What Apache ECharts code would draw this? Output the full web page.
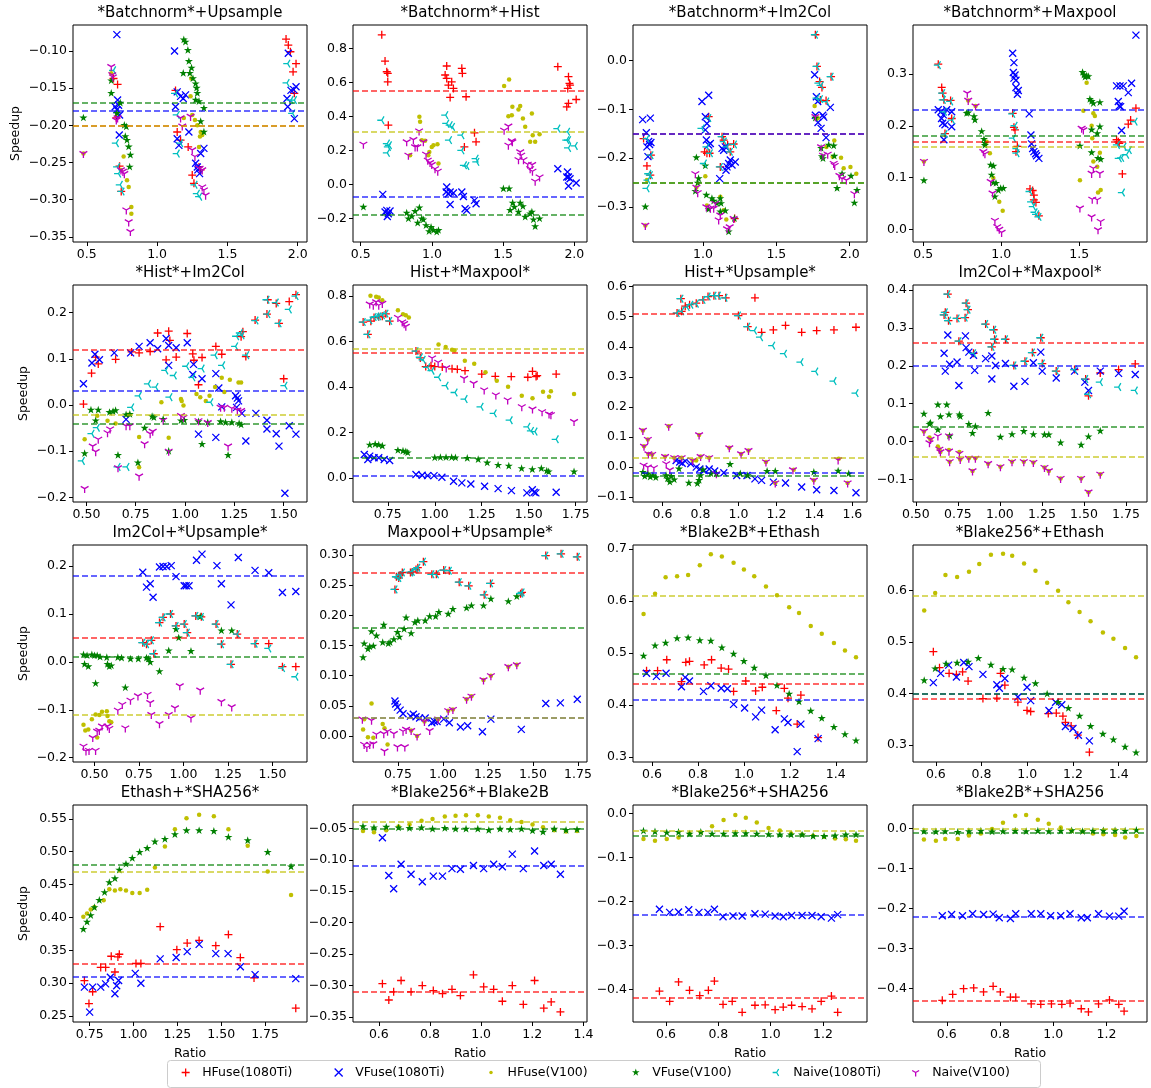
<!DOCTYPE html>
<html><head><meta charset="utf-8">
<script src="https://cdn.jsdelivr.net/npm/echarts@6/dist/echarts.min.js"></script>
<style>html,body{margin:0;padding:0;background:#fff}#c{width:1151px;height:1088px}</style>
</head><body><div id="c"></div>
<script>
const TITLES = ['*Batchnorm*+Upsample','*Batchnorm*+Hist','*Batchnorm*+Im2Col','*Batchnorm*+Maxpool','*Hist*+Im2Col','Hist+*Maxpool*','Hist+*Upsample*','Im2Col+*Maxpool*','Im2Col+*Upsample*','Maxpool+*Upsample*','*Blake2B*+Ethash','*Blake256*+Ethash','Ethash+*SHA256*','*Blake256*+Blake2B','*Blake256*+SHA256','*Blake2B*+SHA256'];
const X_LIMITS = [[0.402,2.066],[0.446,2.089],[0.523,2.118],[0.434,1.934],[0.432,1.618],[0.565,1.81],[0.445,1.677],[0.483,1.875],[0.379,1.694],[0.50,1.80],[0.517,1.536],[0.50,1.524],[0.655,1.989],[0.499,1.414],[0.474,1.368],[0.473,1.352]];
const Y_LIMITS = [[-0.357,-0.065],[-0.339,0.937],[-0.372,0.073],[-0.0245,0.3946],[-0.210,0.260],[-0.106,0.849],[-0.116,0.6055],[-0.159,0.413],[-0.209,0.244],[-0.043,0.3166],[0.290,0.708],[0.267,0.688],[0.241,0.571],[-0.358,-0.0128],[-0.474,0.019],[-0.483,0.058]];
const X_TICKS = [[0.5,1.0,1.5,2.0],[0.5,1.0,1.5,2.0],[1.0,1.5,2.0],[0.5,1.0,1.5],[0.5,0.75,1.0,1.25,1.5],[0.75,1.0,1.25,1.5,1.75],[0.6,0.8,1.0,1.2,1.4,1.6],[0.5,0.75,1.0,1.25,1.5,1.75],[0.5,0.75,1.0,1.25,1.5],[0.75,1.0,1.25,1.5,1.75],[0.6,0.8,1.0,1.2,1.4],[0.6,0.8,1.0,1.2,1.4],[0.75,1.0,1.25,1.5,1.75],[0.6,0.8,1.0,1.2,1.4],[0.6,0.8,1.0,1.2],[0.6,0.8,1.0,1.2]];
const Y_TICKS = [[-0.35,-0.30,-0.25,-0.20,-0.15,-0.10],[-0.2,0.0,0.2,0.4,0.6,0.8],[-0.3,-0.2,-0.1,0.0],[0.0,0.1,0.2,0.3],[-0.2,-0.1,0.0,0.1,0.2],[0.0,0.2,0.4,0.6,0.8],[-0.1,0.0,0.1,0.2,0.3,0.4,0.5,0.6],[-0.1,0.0,0.1,0.2,0.3,0.4],[-0.2,-0.1,0.0,0.1,0.2],[0.0,0.05,0.10,0.15,0.20,0.25,0.30],[0.3,0.4,0.5,0.6,0.7],[0.3,0.4,0.5,0.6],[0.25,0.30,0.35,0.40,0.45,0.50,0.55],[-0.35,-0.30,-0.25,-0.20,-0.15,-0.10,-0.05],[-0.4,-0.3,-0.2,-0.1,0.0],[-0.4,-0.3,-0.2,-0.1,0.0]];
const X_DEC = [1,1,1,1,2,2,1,2,2,2,1,1,2,1,1,1];
const Y_DEC = [2,1,1,1,1,1,1,1,1,2,1,1,2,2,1,1];

const HFUSE_1080TI = [
[[0.69,-0.137],[0.719,-0.145],[0.71,-0.19],[0.733,-0.255],[0.745,-0.289],[1.131,-0.153],[1.143,-0.209],[1.167,-0.22],[1.221,-0.229],[1.25,-0.267],[1.262,-0.278],[1.298,-0.256],[1.31,-0.26],[1.917,-0.084],[1.933,-0.092],[1.948,-0.101],[1.988,-0.117],[1.967,-0.128],[1.976,-0.157]],
[[0.648,0.879],[0.671,0.725],[0.683,0.662],[0.69,0.653],[0.69,0.603],[0.694,0.348],[1.104,0.696],[1.093,0.643],[1.104,0.623],[1.116,0.584],[1.128,0.511],[1.139,0.603],[1.151,0.564],[1.21,0.682],[1.214,0.653],[1.24,0.515],[1.228,0.22],[1.299,0.303],[1.31,0.25],[1.884,0.692],[1.959,0.633],[1.966,0.594],[1.954,0.564],[1.947,0.456],[1.959,0.476],[2.013,0.499],[1.97,0.584]],
[[0.595,-0.16],[0.618,-0.216],[0.641,-0.235],[0.645,-0.194],[1.011,-0.187],[1.027,-0.19],[1.039,-0.115],[1.045,-0.19],[1.118,-0.218],[1.13,-0.156],[1.141,-0.163],[1.168,-0.173],[1.186,-0.187],[1.209,-0.171],[1.216,-0.324],[1.766,0.053],[1.777,-0.012],[1.795,-0.043],[1.811,-0.055],[1.839,-0.082],[1.873,-0.033],[1.8,-0.081]],
[[0.596,0.319],[0.618,0.274],[0.624,0.263],[0.632,0.25],[0.639,0.185],[0.675,0.249],[0.682,0.214],[1.073,0.224],[1.081,0.197],[1.088,0.192],[1.103,0.16],[1.094,0.15],[1.184,0.078],[1.201,0.075],[1.209,0.066],[1.209,0.057],[1.222,0.052],[1.241,0.026],[1.75,0.169],[1.756,0.166],[1.776,0.107],[1.814,0.203],[1.829,0.211],[1.863,0.234],[1.739,0.173]],
[[0.485,0.002],[0.526,0.069],[0.547,0.104],[0.56,0.089],[0.648,0.099],[0.729,0.115],[0.767,0.113],[0.823,0.116],[0.861,0.156],[0.904,0.098],[0.917,0.16],[0.923,0.14],[0.955,0.104],[1.011,0.155],[1.039,0.111],[1.045,0.097],[1.068,0.044],[1.086,0.103],[1.156,0.127],[1.186,0.11],[1.284,0.148],[1.293,0.159],[1.308,0.105],[1.355,0.184],[1.415,0.197],[1.419,0.228],[1.462,0.22],[1.476,0.177],[1.5,0.057],[1.528,0.224],[1.562,0.239]],
[[0.619,0.686],[0.644,0.632],[0.66,0.69],[0.677,0.706],[0.702,0.709],[0.721,0.712],[0.74,0.722],[0.76,0.69],[0.9,0.558],[0.923,0.528],[0.952,0.49],[0.98,0.494],[1.0,0.49],[1.04,0.488],[1.092,0.48],[1.12,0.478],[1.161,0.472],[1.25,0.457],[1.322,0.447],[1.407,0.446],[1.495,0.443],[1.52,0.469],[1.539,0.446],[1.545,0.45],[1.646,0.457]],
[[0.677,0.512],[0.697,0.56],[0.701,0.518],[0.72,0.535],[0.743,0.54],[0.778,0.545],[0.813,0.556],[0.84,0.567],[0.871,0.57],[0.898,0.57],[0.933,0.563],[1.0,0.504],[1.049,0.467],[1.087,0.563],[1.122,0.448],[1.184,0.456],[1.248,0.471],[1.333,0.448],[1.412,0.454],[1.503,0.456],[1.619,0.465]],
[[0.668,0.334],[0.675,0.341],[0.69,0.389],[0.694,0.319],[0.745,0.325],[0.793,0.327],[0.799,0.365],[0.81,0.348],[0.756,0.265],[0.843,0.233],[0.915,0.31],[0.952,0.25],[0.963,0.295],[0.968,0.27],[1.033,0.27],[1.083,0.201],[1.149,0.212],[1.193,0.235],[1.243,0.274],[1.252,0.206],[1.335,0.186],[1.444,0.19],[1.51,0.165],[1.527,0.121],[1.597,0.181],[1.706,0.19],[1.805,0.205]],
[[0.771,0.04],[0.792,0.037],[0.819,0.045],[0.833,0.017],[0.865,0.082],[0.885,0.093],[0.927,0.1],[0.958,0.075],[1.004,0.079],[1.021,0.061],[1.069,0.096],[1.1,0.094],[1.183,0.079],[1.213,0.037],[1.267,-0.005],[1.302,0.058],[1.402,0.038],[1.479,0.038],[1.556,-0.01],[1.631,-0.01]],
[[0.733,0.243],[0.741,0.264],[0.754,0.262],[0.762,0.267],[0.774,0.271],[0.819,0.271],[0.829,0.272],[0.85,0.276],[0.86,0.279],[0.891,0.289],[0.938,0.268],[0.963,0.268],[1.004,0.275],[1.035,0.274],[1.09,0.255],[1.143,0.249],[1.229,0.234],[1.264,0.253],[1.431,0.236],[1.439,0.238],[1.571,0.299],[1.656,0.302],[1.746,0.297]],
[[0.576,0.466],[0.624,0.466],[0.664,0.487],[0.728,0.445],[0.747,0.482],[0.763,0.484],[0.827,0.477],[0.859,0.487],[0.901,0.471],[0.933,0.469],[0.955,0.426],[1.008,0.446],[1.051,0.427],[1.08,0.434],[1.141,0.389],[1.176,0.432],[1.192,0.413],[1.232,0.363],[1.248,0.419],[1.323,0.337]],
[[0.589,0.481],[0.616,0.45],[0.658,0.439],[0.69,0.437],[0.717,0.442],[0.741,0.424],[0.806,0.39],[0.867,0.391],[0.883,0.439],[0.902,0.416],[0.959,0.383],[0.999,0.367],[1.015,0.365],[1.092,0.361],[1.127,0.362],[1.156,0.356],[1.167,0.344],[1.192,0.337],[1.221,0.319],[1.272,0.286]],
[[0.72,0.304],[0.746,0.269],[0.767,0.287],[0.813,0.324],[0.841,0.324],[0.873,0.341],[0.911,0.34],[0.919,0.344],[0.894,0.317],[1.014,0.33],[1.042,0.33],[1.152,0.386],[1.247,0.351],[1.306,0.361],[1.374,0.365],[1.469,0.357],[1.541,0.374],[1.609,0.339],[1.687,0.308],[1.925,0.262]],
[[0.614,-0.297],[0.639,-0.323],[0.658,-0.31],[0.687,-0.292],[0.726,-0.31],[0.77,-0.3],[0.813,-0.308],[0.849,-0.313],[0.886,-0.306],[0.919,-0.316],[0.97,-0.283],[1.01,-0.302],[1.049,-0.306],[1.083,-0.325],[1.122,-0.3],[1.165,-0.33],[1.209,-0.292],[1.245,-0.336],[1.274,-0.326],[1.31,-0.342]],
[[0.575,-0.404],[0.614,-0.427],[0.648,-0.383],[0.69,-0.402],[0.729,-0.414],[0.762,-0.402],[0.785,-0.381],[0.818,-0.434],[0.853,-0.427],[0.891,-0.452],[0.94,-0.436],[0.979,-0.435],[1.017,-0.446],[1.048,-0.44],[1.08,-0.436],[1.12,-0.439],[1.158,-0.444],[1.193,-0.427],[1.232,-0.415],[1.256,-0.452]],
[[0.583,-0.429],[0.622,-0.414],[0.663,-0.4],[0.701,-0.398],[0.738,-0.408],[0.774,-0.394],[0.801,-0.408],[0.839,-0.421],[0.859,-0.421],[0.917,-0.438],[0.953,-0.439],[0.993,-0.438],[1.032,-0.439],[1.063,-0.436],[1.105,-0.45],[1.132,-0.458],[1.17,-0.438],[1.211,-0.428],[1.246,-0.439],[1.266,-0.456]]
];

const VFUSE_1080TI = [
[[0.714,-0.078],[0.719,-0.166],[0.726,-0.173],[0.714,-0.179],[0.733,-0.186],[0.731,-0.213],[0.702,-0.175],[1.124,-0.1],[1.143,-0.155],[1.167,-0.161],[1.186,-0.164],[1.202,-0.159],[1.131,-0.175],[1.143,-0.218],[1.155,-0.227],[1.226,-0.209],[1.274,-0.251],[1.286,-0.256],[1.29,-0.26],[1.31,-0.238],[1.333,-0.231],[1.302,-0.265],[1.933,-0.103],[1.924,-0.164],[1.929,-0.175],[1.952,-0.153],[1.971,-0.152],[1.988,-0.148],[1.976,-0.191]],
[[0.655,-0.059],[0.683,-0.153],[0.694,-0.173],[0.687,-0.189],[0.671,-0.163],[0.706,-0.157],[1.104,-0.016],[1.1,-0.045],[1.116,-0.055],[1.128,-0.045],[1.151,-0.051],[1.128,-0.118],[1.21,-0.045],[1.221,-0.071],[1.233,-0.143],[1.245,-0.153],[1.299,-0.094],[1.31,-0.114],[1.884,0.092],[1.952,0.073],[1.959,0.043],[1.97,0.033],[1.959,-0.01],[2.013,0.008],[1.947,0.043]],
[[0.589,-0.121],[0.641,-0.118],[0.614,-0.148],[0.63,-0.166],[0.636,-0.172],[0.618,-0.177],[0.625,-0.197],[0.645,-0.168],[0.993,-0.084],[1.039,-0.071],[1.016,-0.115],[1.027,-0.129],[1.016,-0.142],[1.023,-0.163],[1.039,-0.173],[1.05,-0.17],[1.114,-0.242],[1.13,-0.18],[1.141,-0.184],[1.152,-0.177],[1.164,-0.218],[1.175,-0.211],[1.186,-0.204],[1.198,-0.214],[1.22,-0.208],[1.157,-0.225],[1.761,-0.029],[1.773,-0.074],[1.782,-0.084],[1.766,-0.112],[1.784,-0.127],[1.805,-0.139],[1.816,-0.112],[1.823,-0.116],[1.868,-0.096],[1.839,-0.158]],
[[0.596,0.231],[0.613,0.227],[0.628,0.221],[0.617,0.214],[0.624,0.205],[0.639,0.202],[0.632,0.173],[0.682,0.227],[0.682,0.198],[0.65,0.231],[1.073,0.34],[1.081,0.322],[1.077,0.303],[1.088,0.298],[1.081,0.292],[1.094,0.288],[1.094,0.274],[1.103,0.261],[1.109,0.268],[1.179,0.223],[1.19,0.182],[1.194,0.165],[1.201,0.156],[1.209,0.15],[1.22,0.146],[1.226,0.142],[1.241,0.137],[1.863,0.375],[1.739,0.277],[1.761,0.277],[1.782,0.277],[1.756,0.238],[1.765,0.237],[1.771,0.191],[1.814,0.264],[1.835,0.282],[1.75,0.247]],
[[0.485,0.046],[0.528,0.091],[0.543,0.11],[0.566,0.098],[0.641,0.113],[0.724,0.113],[0.767,0.127],[0.823,0.135],[0.861,0.122],[0.904,0.144],[0.917,0.129],[0.917,0.086],[0.955,0.124],[1.011,0.135],[1.039,0.066],[1.043,0.088],[1.086,0.057],[1.156,0.068],[1.171,0.037],[1.186,-0.004],[1.256,0.02],[1.265,0.015],[1.271,0.009],[1.261,-0.005],[1.288,-0.018],[1.308,-0.078],[1.359,-0.018],[1.415,-0.033],[1.415,-0.052],[1.462,-0.062],[1.476,-0.089],[1.506,-0.191],[1.528,-0.045],[1.562,-0.063],[1.068,-0.063],[1.156,-0.07],[0.701,-0.031]],
[[0.625,0.103],[0.644,0.081],[0.654,0.096],[0.677,0.089],[0.702,0.089],[0.731,0.081],[0.76,0.077],[0.9,0.015],[0.933,0.012],[0.962,0.01],[0.996,0.01],[1.038,0.003],[1.1,-0.015],[1.144,-0.022],[1.192,-0.027],[1.265,-0.037],[1.337,-0.047],[1.408,-0.056],[1.49,-0.066],[1.519,-0.052],[1.529,-0.063],[1.538,-0.066],[1.646,-0.063]],
[[0.672,0.022],[0.691,0.017],[0.704,0.013],[0.72,0.02],[0.749,0.011],[0.778,0.0],[0.797,-0.006],[0.82,-0.011],[0.846,-0.006],[0.875,-0.013],[0.923,-0.019],[0.991,-0.028],[1.045,-0.028],[1.087,-0.039],[1.122,-0.044],[1.184,-0.05],[1.248,-0.053],[1.333,-0.066],[1.412,-0.075],[1.503,-0.078],[1.619,-0.085]],
[[0.668,0.233],[0.675,0.186],[0.69,0.281],[0.701,0.204],[0.745,0.21],[0.756,0.148],[0.795,0.279],[0.799,0.248],[0.815,0.236],[0.843,0.228],[0.85,0.188],[0.915,0.219],[0.952,0.226],[0.952,0.165],[0.974,0.201],[1.033,0.206],[1.083,0.146],[1.149,0.159],[1.199,0.208],[1.243,0.236],[1.252,0.186],[1.335,0.168],[1.444,0.186],[1.505,0.157],[1.527,0.135],[1.597,0.186],[1.706,0.18],[1.805,0.177]],
[[0.771,0.187],[0.792,0.156],[0.813,0.163],[0.829,0.135],[0.865,0.198],[0.885,0.199],[0.906,0.199],[0.931,0.201],[0.958,0.178],[1.004,0.159],[1.015,0.159],[1.031,0.159],[1.073,0.212],[1.104,0.225],[1.188,0.201],[1.213,0.163],[1.267,0.119],[1.308,0.218],[1.402,0.191],[1.479,0.186],[1.556,0.145],[1.631,0.147]],
[[0.733,0.058],[0.737,0.053],[0.747,0.048],[0.762,0.043],[0.778,0.037],[0.819,0.033],[0.835,0.036],[0.85,0.032],[0.87,0.03],[0.901,0.03],[0.938,0.022],[0.952,0.024],[0.967,0.024],[1.004,0.028],[1.035,0.022],[1.097,0.015],[1.137,0.017],[1.219,0.007],[1.266,0.028],[1.435,0.011],[1.571,0.054],[1.652,0.055],[1.746,0.061]],
[[0.576,0.461],[0.619,0.455],[0.661,0.461],[0.728,0.435],[0.744,0.453],[0.763,0.446],[0.824,0.426],[0.856,0.437],[0.901,0.432],[0.928,0.431],[0.955,0.401],[1.003,0.394],[1.051,0.377],[1.077,0.39],[1.136,0.352],[1.176,0.373],[1.192,0.366],[1.232,0.31],[1.248,0.363],[1.323,0.335]],
[[0.589,0.421],[0.621,0.439],[0.656,0.455],[0.69,0.432],[0.722,0.46],[0.745,0.452],[0.806,0.437],[0.867,0.417],[0.878,0.41],[0.902,0.429],[0.959,0.393],[0.999,0.412],[1.015,0.386],[1.095,0.367],[1.124,0.383],[1.151,0.378],[1.167,0.336],[1.2,0.332],[1.224,0.319],[1.272,0.308]],
[[0.72,0.294],[0.75,0.256],[0.767,0.294],[0.813,0.294],[0.841,0.299],[0.868,0.309],[0.894,0.284],[0.904,0.296],[0.915,0.304],[1.01,0.315],[1.042,0.3],[1.152,0.337],[1.243,0.339],[1.306,0.348],[1.374,0.359],[1.469,0.345],[1.539,0.345],[1.609,0.325],[1.693,0.313],[1.925,0.307]],
[[0.614,-0.065],[0.639,-0.125],[0.658,-0.146],[0.687,-0.107],[0.726,-0.123],[0.77,-0.135],[0.813,-0.126],[0.849,-0.126],[0.886,-0.114],[0.919,-0.115],[0.97,-0.109],[1.01,-0.114],[1.049,-0.107],[1.083,-0.111],[1.122,-0.091],[1.165,-0.114],[1.209,-0.086],[1.245,-0.109],[1.274,-0.107],[1.31,-0.123]],
[[0.575,-0.218],[0.614,-0.225],[0.648,-0.224],[0.687,-0.219],[0.726,-0.225],[0.76,-0.225],[0.785,-0.218],[0.818,-0.235],[0.856,-0.233],[0.891,-0.233],[0.94,-0.228],[0.979,-0.229],[1.017,-0.233],[1.048,-0.235],[1.08,-0.232],[1.12,-0.232],[1.158,-0.232],[1.193,-0.235],[1.232,-0.238],[1.256,-0.23]],
[[0.583,-0.218],[0.618,-0.215],[0.659,-0.218],[0.697,-0.213],[0.738,-0.215],[0.774,-0.214],[0.797,-0.223],[0.839,-0.225],[0.859,-0.213],[0.917,-0.213],[0.953,-0.213],[0.99,-0.218],[1.028,-0.218],[1.063,-0.213],[1.105,-0.223],[1.128,-0.223],[1.17,-0.213],[1.211,-0.219],[1.246,-0.219],[1.266,-0.207]]
];

const HFUSE_V100 = [
[[0.476,-0.238],[0.674,-0.13],[0.762,-0.242],[0.786,-0.274],[0.798,-0.283],[0.817,-0.31],[0.817,-0.319],[0.743,-0.26],[1.243,-0.137],[1.238,-0.161],[1.25,-0.186],[1.269,-0.193],[1.286,-0.2],[1.31,-0.209],[1.321,-0.213],[1.298,-0.229],[1.305,-0.215],[1.19,-0.19]],
[[0.912,0.397],[0.917,0.368],[0.929,0.26],[0.952,0.256],[0.975,0.171],[0.982,0.19],[0.999,0.22],[1.011,0.23],[1.039,0.236],[1.046,0.122],[0.847,0.171],[1.507,0.578],[1.542,0.617],[1.537,0.401],[1.561,0.407],[1.565,0.456],[1.608,0.44],[1.62,0.46],[1.639,0.387],[1.655,0.338],[1.702,0.417],[1.708,0.289],[1.725,0.25],[1.756,0.295],[1.69,0.25]],
[[0.618,-0.245],[0.607,-0.338],[1.016,-0.237],[1.027,-0.297],[1.118,-0.279],[1.141,-0.307],[1.159,-0.326],[0.955,-0.26],[1.761,-0.093],[1.782,-0.118],[1.895,-0.164],[1.941,-0.199],[1.959,-0.221],[2.005,-0.218],[2.045,-0.232],[1.884,-0.197],[1.841,-0.177]],
[[0.504,0.131],[0.906,0.169],[0.927,0.147],[0.949,0.099],[0.987,0.053],[1.009,0.036],[1.504,0.095],[1.526,0.229],[1.547,0.283],[1.579,0.2],[1.59,0.224],[1.6,0.219],[1.583,0.176],[1.59,0.131],[1.615,0.121],[1.632,0.148],[1.637,0.076],[1.62,0.071],[0.788,0.249],[0.835,0.238]],
[[0.491,-0.074],[0.555,-0.023],[0.607,-0.034],[0.648,-0.04],[0.711,-0.021],[0.767,-0.069],[0.767,-0.135],[0.88,0.006],[0.917,-0.071],[0.979,0.013],[0.983,0.009],[0.992,-0.001],[1.058,0.024],[1.077,0.017],[1.105,0.009],[1.124,0.02],[1.186,0.059],[1.227,0.055],[1.271,0.049],[1.284,0.049],[1.199,0.028],[1.152,0.039]],
[[0.658,0.802],[0.688,0.797],[0.702,0.794],[0.721,0.782],[0.804,0.738],[0.831,0.72],[0.846,0.716],[0.862,0.706],[1.02,0.587],[1.058,0.576],[1.092,0.564],[1.105,0.561],[1.16,0.516],[1.21,0.502],[1.27,0.465],[1.33,0.428],[1.39,0.401],[1.463,0.362],[1.52,0.351],[1.576,0.379],[1.608,0.357],[1.618,0.381],[1.741,0.369]],
[[0.497,0.122],[0.503,0.069],[0.526,0.044],[0.546,0.042],[0.633,0.136],[0.614,0.035],[0.662,0.031],[0.701,0.031],[0.778,0.022],[0.793,0.107],[0.801,0.035],[0.846,0.031],[0.952,0.064],[1.014,0.044],[1.053,0.055],[1.145,0.017],[1.194,-0.053],[1.291,-0.009],[1.397,-0.044],[1.528,0.028],[1.575,-0.053],[0.523,0.092],[0.759,0.022]],
[[0.548,0.027],[0.581,0.011],[0.587,0.006],[0.631,-0.013],[0.64,-0.02],[0.646,-0.027],[0.697,-0.022],[0.701,-0.053],[0.759,-0.027],[0.764,-0.047],[0.815,-0.044],[0.837,-0.077],[0.854,-0.044],[0.93,-0.058],[1.003,-0.066],[1.072,-0.053],[1.142,-0.053],[1.199,-0.055],[1.265,-0.068],[1.291,-0.077],[1.361,-0.097],[1.483,-0.097],[1.527,-0.133],[1.597,-0.086],[0.697,0.015]],
[[0.438,-0.131],[0.448,-0.143],[0.465,-0.141],[0.485,-0.12],[0.506,-0.11],[0.527,-0.111],[0.542,-0.104],[0.569,-0.103],[0.573,-0.113],[0.583,-0.124],[0.594,-0.126],[0.515,-0.158]],
[[0.562,0.028],[0.556,0.011],[0.583,-0.002],[0.603,0.054],[0.613,-0.003],[0.665,0.02],[0.675,0.013],[0.692,-0.014],[0.823,0.009],[0.856,0.0],[0.897,0.024],[0.973,0.028],[1.029,0.042],[1.055,0.044],[1.131,0.061],[1.158,0.066],[1.225,0.093],[1.266,0.1],[1.363,0.115],[1.41,0.118]],
[[0.563,0.575],[0.613,0.614],[0.659,0.646],[0.709,0.648],[0.757,0.65],[0.808,0.669],[0.856,0.69],[0.904,0.686],[0.955,0.674],[1.0,0.661],[1.045,0.648],[1.096,0.628],[1.144,0.611],[1.197,0.588],[1.24,0.577],[1.291,0.552],[1.339,0.537],[1.392,0.519],[1.44,0.505],[1.488,0.492]],
[[0.549,0.561],[0.597,0.595],[0.642,0.63],[0.693,0.626],[0.745,0.636],[0.79,0.651],[0.841,0.669],[0.894,0.671],[0.934,0.667],[0.986,0.652],[1.036,0.638],[1.087,0.615],[1.135,0.599],[1.18,0.577],[1.229,0.558],[1.277,0.54],[1.331,0.518],[1.377,0.506],[1.428,0.488],[1.476,0.47]],
[[0.714,0.401],[0.735,0.406],[0.756,0.412],[0.777,0.416],[0.83,0.426],[0.862,0.443],[0.894,0.441],[0.925,0.443],[0.957,0.441],[0.993,0.437],[1.035,0.437],[1.078,0.442],[1.122,0.476],[1.179,0.508],[1.236,0.534],[1.302,0.551],[1.374,0.556],[1.458,0.554],[1.541,0.534],[1.651,0.509],[1.765,0.47],[1.898,0.434]],
[[0.538,-0.054],[0.581,-0.056],[0.629,-0.053],[0.677,-0.047],[0.72,-0.044],[0.767,-0.038],[0.81,-0.035],[0.858,-0.031],[0.9,-0.03],[0.941,-0.029],[0.987,-0.029],[1.03,-0.031],[1.074,-0.033],[1.114,-0.037],[1.158,-0.04],[1.201,-0.044],[1.242,-0.048],[1.286,-0.053],[1.332,-0.055],[1.375,-0.054]],
[[0.514,-0.058],[0.558,-0.062],[0.603,-0.058],[0.648,-0.055],[0.69,-0.046],[0.733,-0.043],[0.776,-0.029],[0.82,-0.015],[0.865,-0.004],[0.905,-0.01],[0.947,-0.021],[0.992,-0.033],[1.035,-0.039],[1.078,-0.046],[1.12,-0.048],[1.162,-0.051],[1.204,-0.053],[1.246,-0.057],[1.287,-0.059],[1.326,-0.062]],
[[0.514,-0.028],[0.559,-0.031],[0.594,-0.027],[0.641,-0.027],[0.683,-0.018],[0.728,-0.013],[0.77,-0.002],[0.811,0.014],[0.857,0.031],[0.898,0.033],[0.942,0.021],[0.983,0.011],[1.028,0.002],[1.069,-0.007],[1.11,-0.008],[1.149,-0.013],[1.188,-0.015],[1.232,-0.017],[1.27,-0.023],[1.312,-0.019]]
];

const VFUSE_V100 = [
[[0.476,-0.19],[0.674,-0.14],[0.674,-0.157],[0.738,-0.17],[0.767,-0.2],[0.781,-0.202],[0.774,-0.215],[0.786,-0.22],[0.798,-0.229],[0.81,-0.24],[0.805,-0.256],[0.714,-0.184],[1.19,-0.085],[1.202,-0.088],[1.219,-0.099],[1.226,-0.114],[1.245,-0.123],[1.233,-0.13],[1.255,-0.137],[1.274,-0.144],[1.281,-0.15],[1.286,-0.157],[1.274,-0.166],[1.298,-0.168],[1.333,-0.177],[1.31,-0.195],[1.333,-0.209],[1.186,-0.13]],
[[0.519,-0.134],[0.823,-0.169],[0.835,-0.202],[0.859,-0.189],[0.882,-0.159],[0.9,-0.228],[0.912,-0.138],[0.929,-0.202],[0.94,-0.208],[0.959,-0.242],[0.98,-0.277],[0.994,-0.252],[1.011,-0.271],[1.034,-0.281],[1.046,-0.271],[1.502,-0.026],[1.542,-0.026],[1.549,-0.153],[1.567,-0.11],[1.579,-0.134],[1.608,-0.163],[1.62,-0.11],[1.639,-0.13],[1.655,-0.193],[1.69,-0.173],[1.702,-0.163],[1.713,-0.208],[1.725,-0.248],[1.756,-0.202]],
[[0.607,-0.3],[0.955,-0.199],[0.97,-0.242],[0.964,-0.251],[0.948,-0.268],[1.016,-0.216],[1.023,-0.276],[1.039,-0.305],[1.061,-0.283],[1.073,-0.288],[1.095,-0.293],[1.118,-0.283],[1.123,-0.293],[1.118,-0.31],[1.152,-0.308],[1.175,-0.351],[1.214,-0.324],[1.766,-0.118],[1.805,-0.18],[1.811,-0.197],[1.818,-0.201],[1.857,-0.173],[1.891,-0.175],[1.895,-0.196],[1.914,-0.262],[1.948,-0.232],[2.009,-0.237],[2.032,-0.292],[2.05,-0.266]],
[[0.504,0.094],[0.778,0.224],[0.788,0.225],[0.825,0.218],[0.831,0.211],[0.874,0.189],[0.889,0.174],[0.895,0.166],[0.932,0.124],[0.949,0.122],[0.938,0.105],[0.949,0.09],[0.966,0.089],[0.981,0.075],[0.996,0.079],[1.013,0.079],[0.959,0.063],[0.895,0.162],[1.504,0.161],[1.521,0.303],[1.53,0.298],[1.537,0.294],[1.547,0.296],[1.558,0.295],[1.568,0.251],[1.579,0.247],[1.59,0.243],[1.632,0.245],[1.579,0.192],[1.615,0.185],[1.632,0.198],[1.579,0.148],[1.62,0.137],[1.637,0.135]],
[[0.491,-0.105],[0.523,-0.011],[0.547,-0.034],[0.56,-0.011],[0.617,-0.016],[0.635,-0.014],[0.648,-0.012],[0.66,-0.109],[0.701,-0.021],[0.72,-0.02],[0.761,-0.125],[0.795,-0.05],[0.833,-0.025],[0.842,-0.027],[0.889,-0.031],[0.917,-0.1],[0.979,-0.034],[0.996,-0.033],[1.068,-0.036],[1.086,-0.085],[1.115,-0.038],[1.18,-0.036],[1.205,-0.038],[1.218,-0.109],[1.237,-0.038],[1.274,-0.04],[1.284,-0.043]],
[[0.654,0.145],[0.683,0.148],[0.702,0.145],[0.721,0.14],[0.804,0.121],[0.831,0.118],[0.846,0.115],[0.856,0.111],[1.0,0.089],[1.03,0.09],[1.06,0.09],[1.09,0.09],[1.11,0.089],[1.173,0.086],[1.231,0.081],[1.279,0.066],[1.337,0.056],[1.394,0.052],[1.462,0.041],[1.519,0.037],[1.567,0.041],[1.596,0.03],[1.606,0.027],[1.741,0.027]],
[[0.497,-0.017],[0.507,-0.031],[0.523,-0.022],[0.536,-0.033],[0.55,-0.028],[0.565,-0.035],[0.619,-0.028],[0.627,-0.039],[0.639,-0.05],[0.646,-0.031],[0.662,-0.042],[0.687,-0.006],[0.739,-0.053],[0.784,-0.055],[0.793,-0.044],[0.801,-0.028],[0.813,-0.009],[0.855,-0.022],[0.884,-0.022],[0.956,0.009],[1.01,-0.022],[1.049,-0.028],[1.151,-0.014],[1.194,-0.014],[1.397,-0.017],[1.525,-0.013],[1.581,-0.022]],
[[0.548,0.073],[0.581,0.046],[0.587,0.049],[0.631,0.031],[0.631,0.097],[0.646,0.066],[0.684,0.097],[0.697,0.071],[0.701,0.015],[0.759,0.071],[0.764,0.066],[0.815,0.046],[0.837,0.022],[0.854,0.04],[0.93,0.075],[1.003,0.012],[1.072,0.019],[1.142,0.027],[1.199,0.019],[1.265,0.018],[1.291,0.018],[1.361,-0.003],[1.483,-0.009],[1.527,0.013],[1.597,0.028]],
[[0.438,0.015],[0.458,0.013],[0.444,-0.005],[0.465,-0.01],[0.485,0.015],[0.5,0.013],[0.515,0.013],[0.531,0.01],[0.506,-0.045],[0.569,0.009],[0.573,-0.005],[0.583,-0.01],[0.594,-0.008],[0.631,0.009],[0.652,0.008],[0.702,0.006],[0.673,-0.054],[0.746,0.006],[0.792,0.008],[0.802,0.006],[0.813,-0.001],[0.865,-0.02],[0.917,0.023],[0.958,0.068],[0.973,0.05],[1.042,0.022],[1.094,0.094],[1.213,0.065],[1.271,0.065]],
[[0.556,0.13],[0.562,0.153],[0.583,0.144],[0.593,0.148],[0.603,0.173],[0.613,0.149],[0.63,0.166],[0.671,0.184],[0.665,0.155],[0.696,0.153],[0.706,0.155],[0.727,0.16],[0.747,0.172],[0.758,0.164],[0.784,0.177],[0.795,0.196],[0.823,0.17],[0.844,0.188],[0.86,0.191],[0.901,0.191],[0.926,0.198],[0.959,0.198],[0.977,0.205],[1.029,0.202],[1.055,0.21],[1.131,0.212],[1.158,0.216],[1.225,0.216],[1.266,0.227],[1.363,0.223],[1.41,0.231]],
[[0.563,0.494],[0.613,0.514],[0.659,0.519],[0.709,0.528],[0.757,0.529],[0.808,0.524],[0.856,0.523],[0.904,0.51],[0.955,0.498],[1.0,0.484],[1.045,0.471],[1.096,0.456],[1.144,0.437],[1.197,0.421],[1.24,0.406],[1.291,0.388],[1.339,0.374],[1.392,0.357],[1.44,0.343],[1.488,0.331]],
[[0.549,0.425],[0.597,0.448],[0.645,0.457],[0.693,0.459],[0.741,0.461],[0.786,0.468],[0.841,0.455],[0.894,0.447],[0.934,0.446],[0.986,0.43],[1.036,0.419],[1.087,0.399],[1.135,0.383],[1.18,0.371],[1.229,0.356],[1.277,0.336],[1.331,0.321],[1.377,0.31],[1.428,0.296],[1.476,0.285]],
[[0.714,0.382],[0.735,0.393],[0.756,0.403],[0.777,0.415],[0.805,0.426],[0.835,0.438],[0.862,0.453],[0.894,0.459],[0.919,0.472],[0.957,0.481],[0.993,0.49],[1.035,0.499],[1.078,0.505],[1.122,0.515],[1.179,0.519],[1.236,0.526],[1.302,0.532],[1.374,0.532],[1.458,0.531],[1.541,0.522],[1.651,0.517],[1.765,0.499],[1.898,0.477]],
[[0.538,-0.047],[0.581,-0.049],[0.629,-0.048],[0.677,-0.049],[0.72,-0.05],[0.767,-0.049],[0.81,-0.051],[0.858,-0.05],[0.9,-0.051],[0.941,-0.051],[0.987,-0.051],[1.03,-0.053],[1.074,-0.051],[1.114,-0.052],[1.158,-0.051],[1.201,-0.054],[1.242,-0.056],[1.286,-0.051],[1.332,-0.053],[1.375,-0.052]],
[[0.514,-0.04],[0.558,-0.042],[0.603,-0.044],[0.648,-0.043],[0.69,-0.047],[0.733,-0.043],[0.776,-0.047],[0.82,-0.047],[0.865,-0.046],[0.905,-0.046],[0.947,-0.047],[0.992,-0.048],[1.035,-0.049],[1.078,-0.049],[1.12,-0.049],[1.162,-0.052],[1.204,-0.052],[1.246,-0.051],[1.287,-0.049],[1.326,-0.049]],
[[0.514,-0.008],[0.559,-0.009],[0.594,-0.008],[0.641,-0.01],[0.683,-0.008],[0.728,-0.007],[0.77,-0.009],[0.811,-0.008],[0.857,-0.007],[0.898,-0.008],[0.942,-0.007],[0.983,-0.008],[1.028,-0.007],[1.069,-0.006],[1.11,-0.008],[1.149,-0.007],[1.188,-0.006],[1.232,-0.006],[1.27,-0.007],[1.312,-0.005]]
];

const NAIVE_1080TI = [
[[0.69,-0.126],[0.71,-0.224],[0.719,-0.256],[0.726,-0.265],[0.738,-0.28],[0.75,-0.289],[1.131,-0.157],[1.143,-0.238],[1.167,-0.224],[1.269,-0.28],[1.286,-0.292],[1.302,-0.296],[1.143,-0.186],[1.929,-0.117],[1.924,-0.143],[1.952,-0.166],[1.976,-0.166],[1.964,-0.184]],
[[0.648,0.377],[0.687,0.24],[0.694,0.22],[0.687,0.185],[0.701,0.23],[1.097,0.407],[1.104,0.358],[1.128,0.348],[1.144,0.338],[1.123,0.26],[1.21,0.289],[1.21,0.2],[1.228,0.112],[1.245,0.108],[1.31,0.151],[1.315,0.132],[1.884,0.328],[1.952,0.309],[1.947,0.26],[1.959,0.26],[1.959,0.214],[2.006,0.226]],
[[0.618,-0.16],[0.63,-0.232],[0.618,-0.262],[0.641,-0.235],[0.625,-0.245],[0.645,-0.194],[0.993,-0.139],[1.009,-0.211],[1.039,-0.118],[1.027,-0.177],[1.05,-0.19],[1.118,-0.218],[1.13,-0.156],[1.145,-0.166],[1.164,-0.177],[1.186,-0.187],[1.214,-0.172],[1.766,0.053],[1.777,-0.012],[1.79,-0.046],[1.805,-0.051],[1.843,-0.084],[1.873,-0.033],[1.777,-0.077],[1.8,-0.079]],
[[0.596,0.317],[0.624,0.263],[0.628,0.25],[0.635,0.227],[0.639,0.184],[0.675,0.247],[0.686,0.211],[1.073,0.223],[1.077,0.176],[1.088,0.2],[1.1,0.156],[1.1,0.147],[1.184,0.073],[1.194,0.053],[1.205,0.044],[1.216,0.033],[1.226,0.029],[1.241,0.024],[1.744,0.163],[1.756,0.137],[1.776,0.071],[1.786,0.16],[1.803,0.144],[1.82,0.153],[1.857,0.208],[1.771,0.138]],
[[0.479,-0.121],[0.528,-0.062],[0.555,-0.049],[0.66,-0.134],[0.705,-0.134],[0.729,-0.005],[0.767,0.02],[0.814,0.046],[0.852,0.039],[0.902,0.075],[0.923,0.017],[0.945,0.064],[1.008,0.084],[1.039,0.06],[1.086,0.079],[1.13,0.006],[1.152,0.108],[1.19,0.086],[1.256,0.127],[1.261,0.149],[1.28,0.156],[1.288,0.151],[1.312,0.108],[1.359,0.183],[1.415,0.228],[1.419,0.197],[1.462,0.222],[1.476,0.177],[1.506,0.042],[1.528,0.207],[1.562,0.236]],
[[0.619,0.686],[0.644,0.632],[0.654,0.694],[0.677,0.708],[0.69,0.71],[0.702,0.711],[0.721,0.716],[0.74,0.723],[0.76,0.691],[0.9,0.558],[0.923,0.531],[0.938,0.52],[0.962,0.487],[0.985,0.472],[1.02,0.443],[1.06,0.406],[1.108,0.376],[1.161,0.347],[1.246,0.313],[1.316,0.284],[1.401,0.254],[1.495,0.225],[1.514,0.207],[1.533,0.204],[1.646,0.17]],
[[0.677,0.512],[0.697,0.56],[0.701,0.518],[0.73,0.532],[0.749,0.54],[0.778,0.543],[0.813,0.556],[0.84,0.567],[0.871,0.57],[0.894,0.57],[0.929,0.563],[1.0,0.504],[1.049,0.467],[1.084,0.454],[1.116,0.432],[1.18,0.404],[1.242,0.377],[1.329,0.349],[1.407,0.318],[1.503,0.286],[1.619,0.246]],
[[0.668,0.334],[0.675,0.341],[0.69,0.389],[0.694,0.319],[0.745,0.325],[0.793,0.327],[0.799,0.365],[0.81,0.348],[0.756,0.265],[0.843,0.233],[0.915,0.31],[0.952,0.25],[0.963,0.295],[0.968,0.27],[1.033,0.27],[1.083,0.201],[1.149,0.212],[1.193,0.235],[1.243,0.274],[1.252,0.206],[1.335,0.186],[1.444,0.19],[1.51,0.165],[1.527,0.125],[1.597,0.157],[1.706,0.144],[1.805,0.135]],
[[0.771,0.04],[0.792,0.037],[0.819,0.045],[0.833,0.017],[0.865,0.082],[0.885,0.093],[0.927,0.1],[0.958,0.075],[1.004,0.079],[1.021,0.061],[1.069,0.096],[1.1,0.094],[1.183,0.079],[1.213,0.037],[1.267,-0.005],[1.302,0.058],[1.402,0.038],[1.479,0.028],[1.556,-0.013],[1.631,-0.031]],
[[0.733,0.243],[0.741,0.264],[0.754,0.262],[0.762,0.267],[0.774,0.271],[0.819,0.271],[0.829,0.272],[0.85,0.276],[0.86,0.279],[0.891,0.289],[0.938,0.268],[0.963,0.268],[1.004,0.275],[1.035,0.274],[1.09,0.255],[1.143,0.249],[1.229,0.234],[1.264,0.253],[1.431,0.236],[1.439,0.238],[1.571,0.299],[1.656,0.302],[1.746,0.297]],
[],[],[],[],[],[]
];

const NAIVE_V100 = [
[[0.476,-0.238],[0.674,-0.121],[0.681,-0.132],[0.686,-0.135],[0.71,-0.193],[0.719,-0.19],[0.757,-0.262],[0.767,-0.265],[0.781,-0.314],[0.798,-0.33],[0.81,-0.343],[0.743,-0.26],[1.167,-0.19],[1.179,-0.201],[1.238,-0.188],[1.25,-0.233],[1.269,-0.242],[1.302,-0.258],[1.321,-0.283],[1.333,-0.287],[1.345,-0.294],[1.321,-0.26]],
[[0.519,0.236],[0.823,0.25],[0.835,0.171],[0.87,0.263],[0.882,0.22],[0.898,0.22],[0.91,0.314],[0.94,0.25],[0.959,0.177],[0.971,0.142],[0.987,0.128],[0.999,0.116],[1.022,0.092],[1.041,0.077],[1.507,0.318],[1.537,0.342],[1.537,0.23],[1.561,0.256],[1.565,0.25],[1.608,0.145],[1.62,0.191],[1.627,0.171],[1.643,0.145],[1.673,0.118],[1.69,0.092],[1.704,0.116],[1.706,0.077],[1.725,0.018],[1.756,0.043]],
[[0.607,-0.338],[0.948,-0.232],[0.955,-0.26],[0.964,-0.271],[1.023,-0.3],[1.05,-0.303],[1.073,-0.303],[1.084,-0.293],[1.107,-0.327],[1.118,-0.317],[1.164,-0.345],[1.182,-0.341],[1.209,-0.324],[1.766,-0.115],[1.805,-0.177],[1.818,-0.194],[1.85,-0.192],[1.891,-0.211],[1.898,-0.215],[1.948,-0.242],[1.977,-0.245],[2.032,-0.273],[1.93,-0.236]],
[[0.504,0.131],[0.782,0.263],[0.788,0.249],[0.835,0.238],[0.885,0.15],[0.895,0.146],[0.932,0.092],[0.944,0.07],[0.959,0.017],[0.974,0.005],[0.987,0.0],[1.002,-0.006],[1.504,0.041],[1.515,0.195],[1.526,0.192],[1.579,0.108],[1.59,0.118],[1.583,0.058],[1.615,0.057],[1.579,0.024],[1.62,-0.001],[1.637,0.015],[1.632,0.108]],
[[0.491,-0.181],[0.532,-0.089],[0.547,-0.101],[0.56,-0.074],[0.607,-0.06],[0.62,-0.052],[0.66,-0.136],[0.701,-0.045],[0.72,-0.045],[0.767,-0.154],[0.795,-0.084],[0.823,-0.062],[0.836,-0.057],[0.889,-0.033],[0.917,-0.1],[0.979,-0.023],[0.992,-0.027],[1.068,-0.034],[1.115,-0.038],[1.18,-0.005],[1.199,-0.005],[1.218,-0.089],[1.237,-0.007],[1.265,-0.011],[1.284,-0.012]],
[[0.654,0.765],[0.673,0.76],[0.688,0.775],[0.702,0.76],[0.721,0.768],[0.804,0.706],[0.827,0.686],[0.837,0.679],[0.846,0.667],[0.986,0.528],[1.018,0.509],[1.061,0.484],[1.156,0.438],[1.207,0.416],[1.263,0.387],[1.325,0.365],[1.388,0.343],[1.463,0.313],[1.52,0.303],[1.571,0.291],[1.608,0.281],[1.618,0.278],[1.741,0.248]],
[[0.497,0.122],[0.503,0.069],[0.523,0.092],[0.526,0.044],[0.546,0.042],[0.501,0.006],[0.523,0.0],[0.555,-0.002],[0.633,0.136],[0.614,0.035],[0.62,0.011],[0.639,-0.009],[0.662,0.031],[0.701,0.031],[0.759,0.022],[0.793,0.107],[0.801,0.035],[0.846,0.031],[0.884,-0.022],[0.952,0.064],[1.014,0.044],[1.053,0.055],[1.145,0.017],[1.194,-0.053],[1.287,-0.009],[1.397,-0.044],[1.525,0.024],[1.575,-0.053]],
[[0.548,0.027],[0.581,-0.003],[0.587,0.006],[0.631,0.015],[0.64,-0.02],[0.646,-0.027],[0.697,0.015],[0.697,-0.025],[0.701,-0.053],[0.759,-0.031],[0.764,-0.047],[0.815,-0.044],[0.837,-0.077],[0.854,-0.044],[0.93,-0.058],[1.003,-0.066],[1.072,-0.053],[1.142,-0.053],[1.199,-0.055],[1.265,-0.068],[1.291,-0.077],[1.361,-0.097],[1.483,-0.097],[1.527,-0.133],[1.597,-0.086]],
[[0.438,-0.176],[0.452,-0.186],[0.469,-0.185],[0.49,-0.158],[0.515,-0.145],[0.506,-0.185],[0.527,-0.143],[0.542,-0.134],[0.573,-0.134],[0.583,-0.139],[0.631,-0.101],[0.656,-0.089],[0.673,-0.138],[0.702,-0.08],[0.744,-0.071],[0.798,-0.068],[0.813,-0.085],[0.819,-0.11],[0.865,-0.129],[0.917,-0.11],[0.952,-0.096],[0.979,-0.05],[1.042,-0.117],[1.094,-0.059],[1.213,-0.083],[1.271,-0.094]],
[[0.552,0.028],[0.562,-0.014],[0.577,-0.019],[0.593,-0.014],[0.603,0.026],[0.613,-0.013],[0.63,0.003],[0.671,0.004],[0.675,-0.025],[0.692,0.008],[0.727,0.004],[0.747,-0.018],[0.778,0.008],[0.788,-0.018],[0.795,0.011],[0.823,0.009],[0.856,0.0],[0.897,0.024],[0.926,0.009],[0.973,0.028],[1.029,0.042],[1.055,0.044],[1.131,0.061],[1.158,0.066],[1.225,0.093],[1.266,0.1],[1.363,0.115],[1.41,0.118]],
[],[],[],[],[],[]
];

const MEAN_HFUSE_1080TI = [-0.203,0.55,-0.155,0.165,0.124,0.551,0.509,0.259,0.052,0.267,0.441,0.39,0.331,-0.311,-0.425,-0.427];
const MEAN_VFUSE_1080TI = [-0.184,-0.071,-0.152,0.234,0.033,0.012,-0.023,0.199,0.177,0.033,0.405,0.401,0.313,-0.113,-0.23,-0.217];
const MEAN_HFUSE_V100 = [-0.205,0.3125,-0.247,0.162,-0.021,0.568,0.027,-0.044,-0.106,0.030,0.608,0.593,0.465,-0.042,-0.043,-0.004];
const MEAN_VFUSE_V100 = [-0.168,-0.181,-0.249,0.181,-0.045,0.089,-0.028,0.042,0.010,0.181,0.455,0.399,0.477,-0.05,-0.048,-0.007];

// ---------- styling / layout ----------
const FONT = 'DejaVu Sans';
const PLUS = 'path://M5,0L5,10M0,5L10,5';
const CROSS = 'path://M0,0L10,10M10,0L0,10';
const STAR = 'path://M10,20M10,0L12.245,6.91L19.511,6.91L13.633,11.18L15.878,18.09L10,13.82L4.122,18.09L6.367,11.18L0.489,6.91L7.755,6.91Z';
const TRI_LEFT = 'path://M10,0M10,20M20,10M10,10L0,10M10,10L15,1.34M10,10L15,18.66';
const TRI_DOWN = 'path://M0,10M20,10M10,0M10,10L10,20M10,10L1.34,5M10,10L18.66,5';
const DOT_ICON = 'path://M0,0M10,10M2.8,5A2.2,2.2,0,1,0,7.2,5A2.2,2.2,0,1,0,2.8,5Z';

const SERIES = [
  {name:'HFuse(1080Ti)', data:HFUSE_1080TI, mean:MEAN_HFUSE_1080TI, color:'#ff0000', symbol:PLUS, icon:PLUS, size:8, stroke:true},
  {name:'VFuse(1080Ti)', data:VFUSE_1080TI, mean:MEAN_VFUSE_1080TI, color:'#0000ff', symbol:CROSS, icon:CROSS, size:7, stroke:true},
  {name:'HFuse(V100)', data:HFUSE_V100, mean:MEAN_HFUSE_V100, color:'#bfbf00', symbol:'circle', icon:DOT_ICON, size:4.5, stroke:false},
  {name:'VFuse(V100)', data:VFUSE_V100, mean:MEAN_VFUSE_V100, color:'#008000', symbol:STAR, icon:STAR, size:8.5, stroke:false},
  {name:'Naive(1080Ti)', data:NAIVE_1080TI, mean:null, color:'#00bfbf', symbol:TRI_LEFT, icon:TRI_LEFT, size:9, stroke:true},
  {name:'Naive(V100)', data:NAIVE_V100, mean:null, color:'#bf00bf', symbol:TRI_DOWN, icon:TRI_DOWN, size:9, stroke:true}
];
const LEGEND_ICON_X = [185, 338, 491, 636, 776, 915];

function fmt(d){ return v => { let t = Number(v).toFixed(d); if (parseFloat(t) === 0) t = (0).toFixed(d); return t.replace('-', '\u2212'); }; }

const grids=[], xAxes=[], yAxes=[], series=[], graphics=[];
for (let i=0;i<16;i++){
  const r=Math.floor(i/4), c=i%4;
  const left=73+c*280, top=25+r*260, W=234, H=217;
  grids.push({left:left, top:top, width:W, height:H, show:true, borderColor:'#000', borderWidth:1, containLabel:false});
  const xa = {type:'value', gridIndex:i, min:X_LIMITS[i][0], max:X_LIMITS[i][1], splitLine:{show:false},
    axisLine:{show:false, onZero:false}, axisTick:{show:true, length:4, inside:false, lineStyle:{color:'#000', width:1}, customValues:X_TICKS[i]},
    axisLabel:{customValues:X_TICKS[i], formatter:fmt(X_DEC[i]), margin:6, fontSize:12.5, fontFamily:FONT, color:'#000'}};
  if (r===3){ Object.assign(xa,{name:'Ratio', nameLocation:'middle', nameGap:25, nameTextStyle:{fontSize:12.5, fontFamily:FONT, color:'#000'}}); }
  xAxes.push(xa);
  const ya = {type:'value', gridIndex:i, min:Y_LIMITS[i][0], max:Y_LIMITS[i][1], splitLine:{show:false},
    axisLine:{show:false, onZero:false}, axisTick:{show:true, length:4, inside:false, lineStyle:{color:'#000', width:1}, customValues:Y_TICKS[i]},
    axisLabel:{customValues:Y_TICKS[i], formatter:fmt(Y_DEC[i]), margin:6, fontSize:12.5, fontFamily:FONT, color:'#000'}};
  if (c===0){ Object.assign(ya,{name:'Speedup', nameLocation:'middle', nameRotate:90, nameGap:(r===0?51:43), nameTextStyle:{fontSize:12.5, fontFamily:FONT, color:'#000'}}); }
  yAxes.push(ya);
  graphics.push({type:'text', x:left+W/2, y:top-4, silent:true, style:{text:TITLES[i], fontSize:15, fontFamily:FONT, fill:'#000', align:'center', verticalAlign:'bottom'}});
  SERIES.forEach(s => {
    const ser = {type:'scatter', name:s.name, xAxisIndex:i, yAxisIndex:i, data:s.data[i], symbol:s.symbol, symbolSize:s.size,
      symbolKeepAspect:true, silent:true, animation:false,
      itemStyle: s.stroke ? {color:s.color, borderColor:s.color, borderWidth:1.3, opacity:1} : {color:s.color, borderWidth:0, opacity:1}};
    if (s.mean){
      ser.markLine = {silent:true, symbol:'none', animation:false, label:{show:false},
        lineStyle:{color:s.color, type:[6,3], width:1.5, opacity:0.8}, emphasis:{disabled:true},
        data:[{yAxis:s.mean[i]}]};
    }
    series.push(ser);
  });
}
graphics.push({type:'rect', z:-1, shape:{x:167.5, y:1060.5, width:873, height:27, r:3}, style:{fill:'#fff', stroke:'#cccccc', lineWidth:1}, silent:true});

const legends = SERIES.map((s,k) => ({
  data:[{name:s.name, icon:s.icon,
    itemStyle: s.stroke ? {color:s.color, borderColor:s.color, borderWidth:1.3} : {color:s.color, borderWidth:0}}],
  left: LEGEND_ICON_X[k]-4, top:1066, itemWidth:23, itemHeight:8, padding:0, selectedMode:false,
  textStyle:{fontSize:12.5, fontFamily:FONT, color:'#000'}
}));

const chart = echarts.init(document.getElementById('c'), null, {renderer:'canvas'});
chart.setOption({
  animation:false,
  backgroundColor:'#fff',
  grid:grids, xAxis:xAxes, yAxis:yAxes, series:series,
  graphic:{elements:graphics},
  legend:legends
});
</script></body></html>
